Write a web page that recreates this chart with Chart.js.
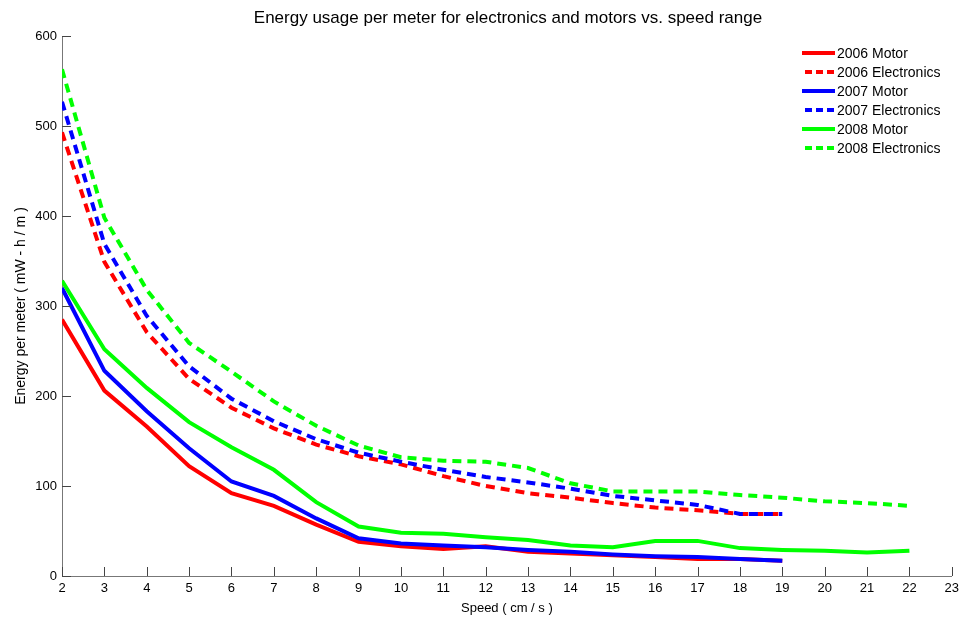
<!DOCTYPE html>
<html>
<head>
<meta charset="utf-8">
<script src="https://cdn.jsdelivr.net/npm/chart.js@4"></script>
<style>
  html, body { margin: 0; padding: 0; background: #fff; }
  #wrap { width: 964px; height: 620px; }
</style>
</head>
<body>
<div id="wrap"><canvas id="energyChart" width="964" height="620"></canvas></div>
<script>
// speeds (cm/s)
const speeds06 = [2, 3, 4, 5, 6, 7, 8, 9, 10, 11, 12, 13, 14, 15, 16, 17, 18, 19];
const speeds07 = [2, 3, 4, 5, 6, 7, 8, 9, 10, 11, 12, 13, 14, 15, 16, 17, 18, 19];
const speeds08 = [2, 3, 4, 5, 6, 7, 8, 9, 10, 11, 12, 13, 14, 15, 16, 17, 18, 19, 20, 21, 22];

// energy per meter (mW-h/m)
const motor2006 = [285, 206, 166, 122, 92, 78, 57, 38, 33, 30, 33, 27, 25, 23, 21, 19, 19, 17];
const elec2006 = [493, 349, 271, 219, 187, 164, 146, 133, 124, 111, 100, 92, 87, 81, 76, 73, 69, 69];
const motor2007 = [320, 228, 183, 142, 105, 89, 64, 42, 36, 34, 32, 29, 27, 24, 22, 21, 19, 17];
const elec2007 = [527, 369, 289, 233, 197, 172, 152, 137, 127, 118, 110, 104, 97, 89, 84, 79, 69, 69];
const motor2008 = [328, 252, 209, 171, 143, 118, 82, 55, 48, 47, 43, 40, 34, 32, 39, 39, 31, 29, 28, 26, 28];
const elec2008 = [563, 398, 318, 259, 227, 194, 167, 145, 132, 128, 127, 120, 103, 94, 94, 94, 90, 87, 83, 81, 78];

const xTicks = [2, 3, 4, 5, 6, 7, 8, 9, 10, 11, 12, 13, 14, 15, 16, 17, 18, 19, 20, 21, 22, 23];
const yTicks = [0, 100, 200, 300, 400, 500, 600];

const FONT = '"Liberation Sans", Arial, Helvetica, sans-serif';

function pts(xs, ys) {
  return xs.map((x, i) => ({ x: x, y: ys[i] }));
}

function series(label, xs, ys, color, dashed, order) {
  return {
    label: label,
    data: pts(xs, ys),
    borderColor: color,
    backgroundColor: color,
    borderWidth: 4,
    borderDash: dashed ? [9, 6] : [],
    pointRadius: 0,
    tension: 0,
    fill: false,
    order: order
  };
}

// ticks pointing inside the plot, like matlab
const inwardTicks = {
  id: 'inwardTicks',
  afterDraw(chart) {
    const ctx = chart.ctx;
    const a = chart.chartArea;
    const xs = chart.scales.x, ys = chart.scales.y;
    ctx.save();
    ctx.strokeStyle = '#444';
    ctx.lineWidth = 1;
    ctx.beginPath();
    xTicks.forEach(v => {
      const px = Math.round(xs.getPixelForValue(v)) + 0.5;
      ctx.moveTo(px, a.bottom);
      ctx.lineTo(px, a.bottom - 9);
    });
    yTicks.forEach(v => {
      const py = Math.round(ys.getPixelForValue(v)) + 0.5;
      ctx.moveTo(a.left, py);
      ctx.lineTo(a.left + 9, py);
    });
    ctx.stroke();
    ctx.restore();
  }
};

const lineLegend = {
  id: 'lineLegend',
  afterDraw(chart) {
    const ctx = chart.ctx;
    ctx.save();
    ctx.font = '14px ' + FONT;
    ctx.textBaseline = 'middle';
    chart.data.datasets.forEach((ds, i) => {
      const y = 53 + i * 19;
      ctx.strokeStyle = ds.borderColor;
      ctx.lineWidth = 4;
      ctx.setLineDash(ds.borderDash.length ? [7, 4] : []);
      ctx.beginPath();
      ctx.moveTo(ds.borderDash.length ? 805 : 802, y);
      ctx.lineTo(835, y);
      ctx.stroke();
      ctx.setLineDash([]);
      ctx.fillStyle = '#000';
      ctx.fillText(ds.label, 837, y + 1);
    });
    ctx.restore();
  }
};

// title drawn above the plot
const topTitle = {
  id: 'topTitle',
  afterDraw(chart) {
    const c = chart.ctx;
    c.save();
    c.font = '17px ' + FONT;
    c.fillStyle = '#000';
    c.textAlign = 'center';
    c.textBaseline = 'middle';
    c.fillText('Energy usage per meter for electronics and motors vs. speed range', 508, 18);
    c.restore();
  }
};

const ctx = document.getElementById('energyChart').getContext('2d');
const energyChart = new Chart(ctx, {
  type: 'line',
  data: {
    datasets: [
      series('2006 Motor', speeds06, motor2006, '#ff0000', false, 6),
      series('2006 Electronics', speeds06, elec2006, '#ff0000', true, 5),
      series('2007 Motor', speeds07, motor2007, '#0000ff', false, 4),
      series('2007 Electronics', speeds07, elec2007, '#0000ff', true, 3),
      series('2008 Motor', speeds08, motor2008, '#00ff00', false, 2),
      series('2008 Electronics', speeds08, elec2008, '#00ff00', true, 1)
    ]
  },
  plugins: [inwardTicks, lineLegend, topTitle],
  options: {
    responsive: false,
    animation: false,
    layout: { padding: { left: 0, right: 11, top: 36, bottom: 0 } },
    plugins: {
      legend: { display: false },
      tooltip: { enabled: false },
      title: { display: false }
    },
    scales: {
      x: {
        type: 'linear',
        min: 2,
        max: 23,
        afterBuildTicks: s => { s.ticks = xTicks.map(v => ({ value: v })); },
        afterFit: s => { s.height = 44; },
        grid: { display: false, drawTicks: false },
        border: { display: true, color: '#777', width: 1 },
        ticks: { color: '#000', font: { family: FONT, size: 13 }, padding: 5, maxRotation: 0 },
        title: {
          display: true,
          text: 'Speed ( cm / s )',
          color: '#000',
          font: { family: FONT, size: 13 },
          padding: { top: 2, bottom: 4 }
        }
      },
      y: {
        min: 0,
        max: 600,
        afterBuildTicks: s => { s.ticks = yTicks.map(v => ({ value: v })); },
        afterFit: s => { s.width = 62; },
        grid: { display: false, drawTicks: false },
        border: { display: true, color: '#777', width: 1 },
        ticks: { color: '#000', font: { family: FONT, size: 13 }, padding: 5 },
        title: {
          display: true,
          text: 'Energy per meter ( mW - h / m )',
          color: '#000',
          font: { family: FONT, size: 14 },
          padding: { top: 13, bottom: 6 }
        }
      }
    }
  }
});
</script>
</body>
</html>
